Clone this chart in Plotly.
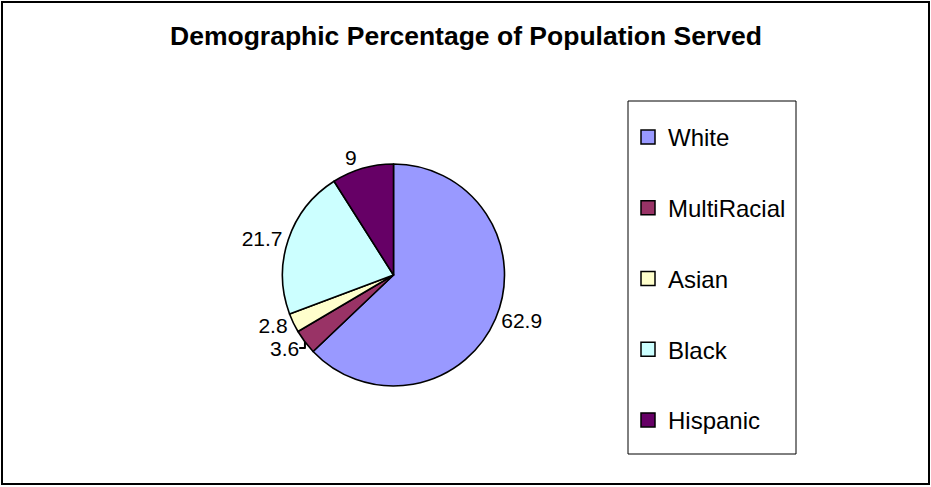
import plotly.graph_objects as go

# Data
categories = ["White", "MultiRacial", "Asian", "Black", "Hispanic"]
values = [62.9, 3.6, 2.8, 21.7, 9]
colors = ["#9999FF", "#993366", "#FFFFCC", "#CCFFFF", "#660066"]
title_text = "Demographic Percentage of Population Served"

W, H = 931, 487
FONT = "Liberation Sans, Arial, sans-serif"

# pie geometry (pixels)
cx, cy, r = 393.5, 275, 111

fig = go.Figure()
fig.add_trace(go.Pie(
    labels=categories,
    values=values,
    sort=False,
    direction="clockwise",
    rotation=0,
    marker=dict(colors=colors, line=dict(color="black", width=1.6)),
    textinfo="value",
    textposition="outside",
    texttemplate="%{value}",
    outsidetextfont=dict(family=FONT, size=21, color="black"),
    showlegend=False,
    domain=dict(x=[(cx - r) / W, (cx + r) / W], y=[1 - (cy + r) / H, 1 - (cy - r) / H]),
    hoverinfo="label+value",
))

# legend entries (one group each so they can be spaced apart)
for name, col in zip(categories, colors):
    fig.add_trace(go.Scatter(
        x=[None], y=[None], mode="markers", name=name,
        legendgroup=name,
        marker=dict(symbol="square", size=14, color=col, line=dict(color="black", width=1.5)),
    ))

# outer frame
fig.add_shape(type="rect", xref="paper", yref="paper",
              x0=2 / W, x1=929 / W, y0=1 - 484 / H, y1=1 - 2 / H,
              line=dict(color="black", width=2), fillcolor="rgba(0,0,0,0)")
# legend frame
fig.add_shape(type="rect", xref="paper", yref="paper",
              x0=628 / W, x1=796 / W, y0=1 - 454 / H, y1=1 - 101 / H,
              line=dict(color="black", width=1), fillcolor="white", layer="below")

fig.update_layout(
    width=W, height=H,
    margin=dict(l=0, r=0, t=0, b=0),
    paper_bgcolor="white", plot_bgcolor="rgba(0,0,0,0)",
    title=dict(text="<b>" + title_text + "</b>", x=466 / W, xanchor="center",
               y=1 - 36 / H, yanchor="middle",
               font=dict(family=FONT, size=26.5, color="black")),
    xaxis=dict(visible=False), yaxis=dict(visible=False),
    legend=dict(x=628 / W, xanchor="left", y=1 - 115 / H, yanchor="top",
                borderwidth=0, bgcolor="rgba(0,0,0,0)",
                font=dict(family=FONT, size=24, color="black"),
                tracegroupgap=36.5, itemwidth=30),
    showlegend=True,
)

fig.write_html("out.html", config={"displayModeBar": False},
               post_script="document.body.style.margin='0px';")
